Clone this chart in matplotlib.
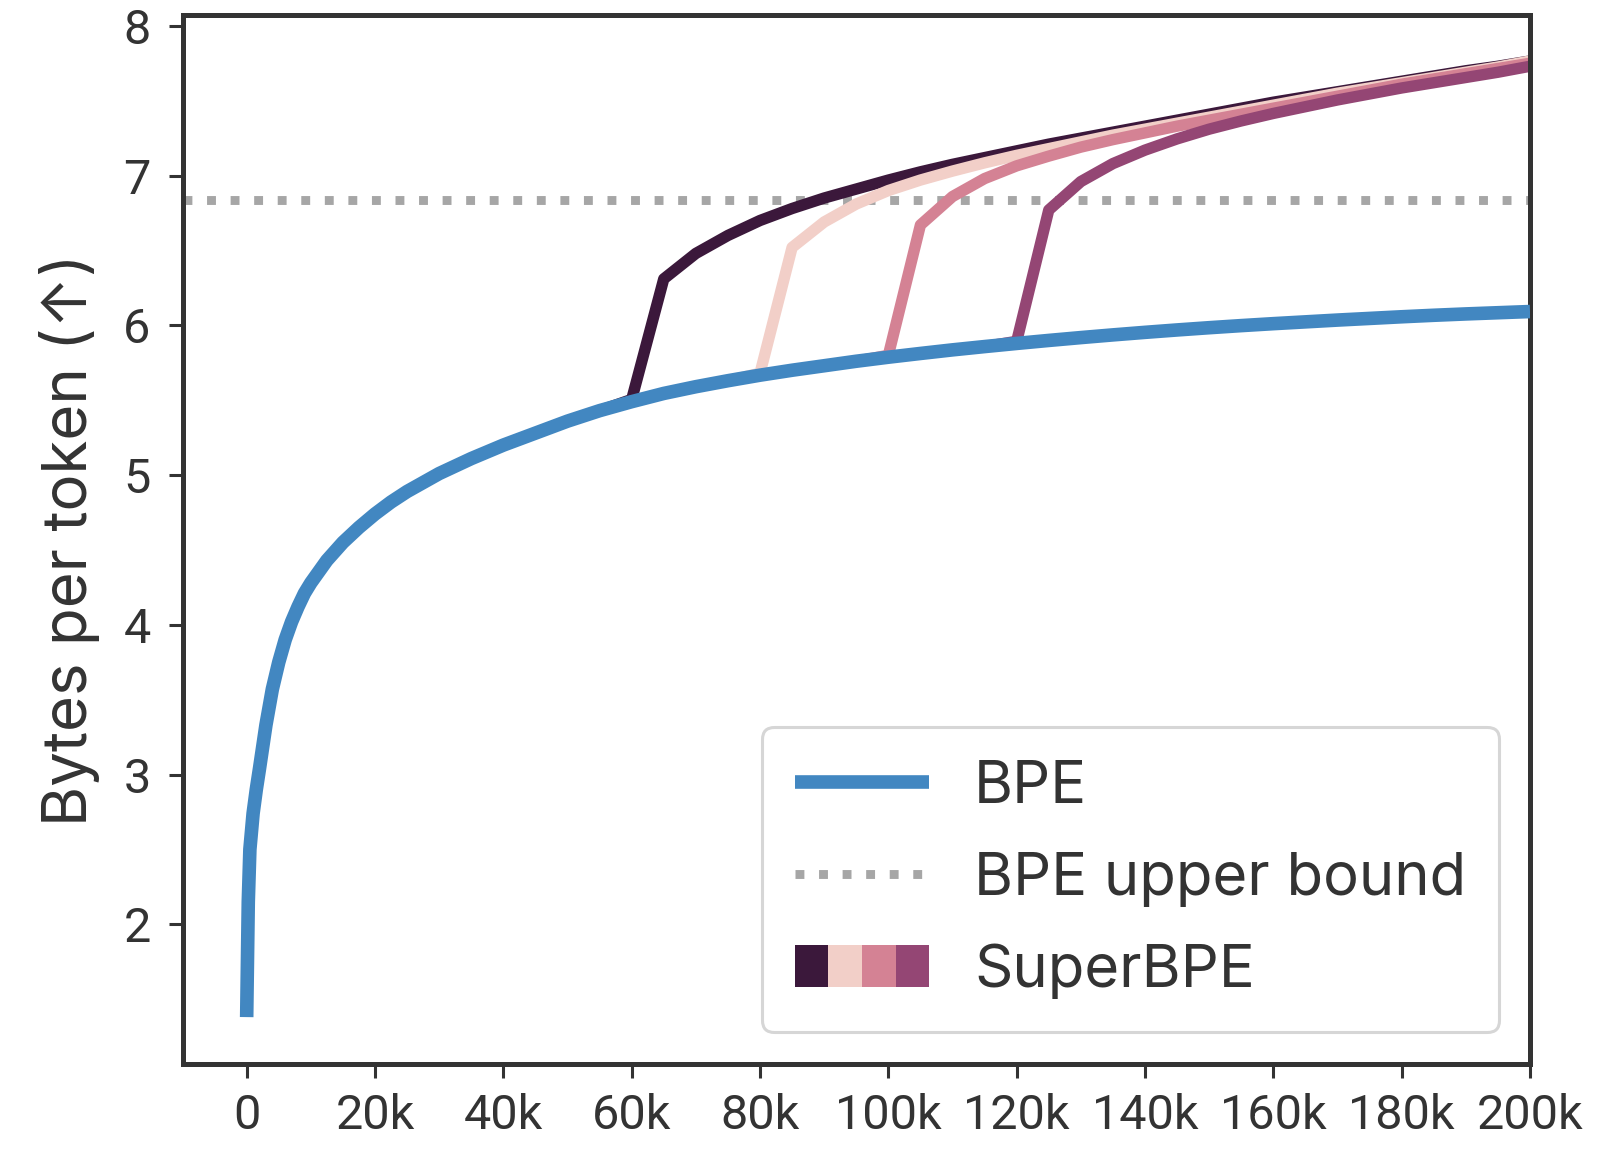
import matplotlib
matplotlib.use('Agg')
import matplotlib.pyplot as plt
from matplotlib.legend_handler import HandlerBase
from matplotlib.patches import Rectangle

# BPE bytes-per-token vs vocab size
bpe_x = [0, 250, 500, 1000, 1500, 2000, 3000, 4000, 5000, 6000, 7000, 8000, 9000,
         10000, 12500, 15000, 17500, 20000, 22500, 25000, 30000, 35000, 40000, 45000,
         50000, 55000, 60000, 65000, 70000, 75000, 80000, 85000, 90000, 95000, 100000,
         105000, 110000, 115000, 120000, 125000, 130000, 135000, 140000, 145000,
         150000, 155000, 160000, 165000, 170000, 175000, 180000, 185000, 190000,
         195000, 200000]
bpe_y = [1.38, 2.15, 2.50, 2.74, 2.90, 3.04, 3.33, 3.57, 3.75, 3.90, 4.02, 4.12, 4.21,
         4.28, 4.43, 4.55, 4.65, 4.74, 4.82, 4.89, 5.01, 5.11, 5.20, 5.28,
         5.36, 5.43, 5.49, 5.545, 5.59, 5.63, 5.667, 5.70, 5.73, 5.76, 5.787,
         5.812, 5.836, 5.858, 5.879, 5.899, 5.918, 5.936, 5.953, 5.969,
         5.984, 5.998, 6.011, 6.023, 6.035, 6.046, 6.057, 6.067, 6.076,
         6.084, 6.092]

bpe_upper_bound = 6.84

# SuperBPE runs, one per transition point
sb60_x = list(range(55000, 200001, 5000))
sb60_y = [5.43, 5.505, 6.31, 6.48, 6.60, 6.70, 6.78, 6.85, 6.91, 6.97, 7.025, 7.075, 7.12,
          7.165, 7.21, 7.25, 7.29, 7.33, 7.37, 7.41, 7.45, 7.49, 7.525, 7.56, 7.595,
          7.63, 7.665, 7.70, 7.73, 7.765]

sb80_x = list(range(75000, 200001, 5000))
sb80_y = [5.63, 5.68, 6.52, 6.69, 6.81, 6.90, 6.97, 7.03, 7.085, 7.135, 7.18, 7.225, 7.27,
          7.31, 7.35, 7.39, 7.43, 7.47, 7.51, 7.55, 7.585, 7.62, 7.655, 7.69, 7.725, 7.765]

sb100_x = list(range(95000, 200001, 5000))
sb100_y = [5.76, 5.80, 6.67, 6.86, 6.98, 7.065, 7.13, 7.19, 7.24, 7.285, 7.33, 7.37, 7.41,
           7.45, 7.49, 7.53, 7.57, 7.61, 7.645, 7.68, 7.715, 7.75]

sb120_x = list(range(115000, 200001, 5000))
sb120_y = [5.858, 5.893, 6.77, 6.96, 7.08, 7.17, 7.245, 7.31, 7.365, 7.415, 7.46, 7.505,
           7.545, 7.585, 7.62, 7.655, 7.69, 7.73]

superbpe_colors = ['#3b183b', '#f2cfc8', '#d48294', '#944674']
x_ticks = [0, 20000, 40000, 60000, 80000, 100000, 120000, 140000, 160000, 180000, 200000]
x_ticklabels = ['0', '20k', '40k', '60k', '80k', '100k', '120k', '140k', '160k', '180k', '200k']
y_ticks = [2, 3, 4, 5, 6, 7, 8]

TEXT = '#333333'
plt.rcParams['font.family'] = ['Roboto', 'DejaVu Sans']
plt.rcParams['text.color'] = TEXT
plt.rcParams['axes.labelcolor'] = TEXT
plt.rcParams['xtick.color'] = TEXT
plt.rcParams['ytick.color'] = TEXT
WIDE = ['Inter', 'DejaVu Sans']


class SuperHandle(object):
    pass


class ColorStripHandler(HandlerBase):
    def create_artists(self, legend, orig_handle, xdescent, ydescent, width, height, fontsize, trans):
        w = width / len(superbpe_colors)
        return [Rectangle((-xdescent + i * w, -ydescent), w, height, facecolor=c,
                          edgecolor='none', transform=trans)
                for i, c in enumerate(superbpe_colors)]


fig = plt.figure(figsize=(8.04, 5.77), dpi=200)
ax = fig.add_axes([0.1135, 0.0784, 0.838, 0.9083])

series = [(sb60_x, sb60_y), (sb80_x, sb80_y), (sb100_x, sb100_y), (sb120_x, sb120_y)]
for (xs, ys), c in zip(series, superbpe_colors):
    ax.plot(xs, ys, color=c, lw=4.1, solid_capstyle='butt')

bpe_line, = ax.plot(bpe_x, bpe_y, color='#4287c1', lw=4.9, solid_capstyle='butt', zorder=5)
ub_line = ax.axhline(bpe_upper_bound, color='#a6a6a6', lw=3.2, ls=':', zorder=1)

ax.set_xlim(-10000, 200000)
ax.set_ylim(1.07, 8.07)
ax.set_xticks(x_ticks)
ax.set_xticklabels(x_ticklabels)
ax.set_yticks(y_ticks)
ax.tick_params(axis='both', labelsize=17.5, length=5, width=1.1)
ax.tick_params(axis='x', pad=5.5)
ax.tick_params(axis='y', pad=6.5)
for s in ax.spines.values():
    s.set_linewidth(1.8)
    s.set_color(TEXT)

ax.set_ylabel('Bytes per token (↑)', fontsize=22.2, labelpad=8.5, family=WIDE)

leg = ax.legend([bpe_line, ub_line, SuperHandle()], ['BPE', 'BPE upper bound', 'SuperBPE'],
                handler_map={SuperHandle: ColorStripHandler()},
                loc='lower right', bbox_to_anchor=(0.977, 0.03), borderaxespad=0,
                prop={'family': WIDE, 'size': 21.5},
                handlelength=2.25, handletextpad=0.75, labelspacing=0.62,
                borderpad=0.55, fancybox=True, framealpha=1)
leg.get_frame().set_edgecolor('#d6d6d6')
leg.get_frame().set_linewidth(1.1)

fig.savefig('out.png', dpi=200)
